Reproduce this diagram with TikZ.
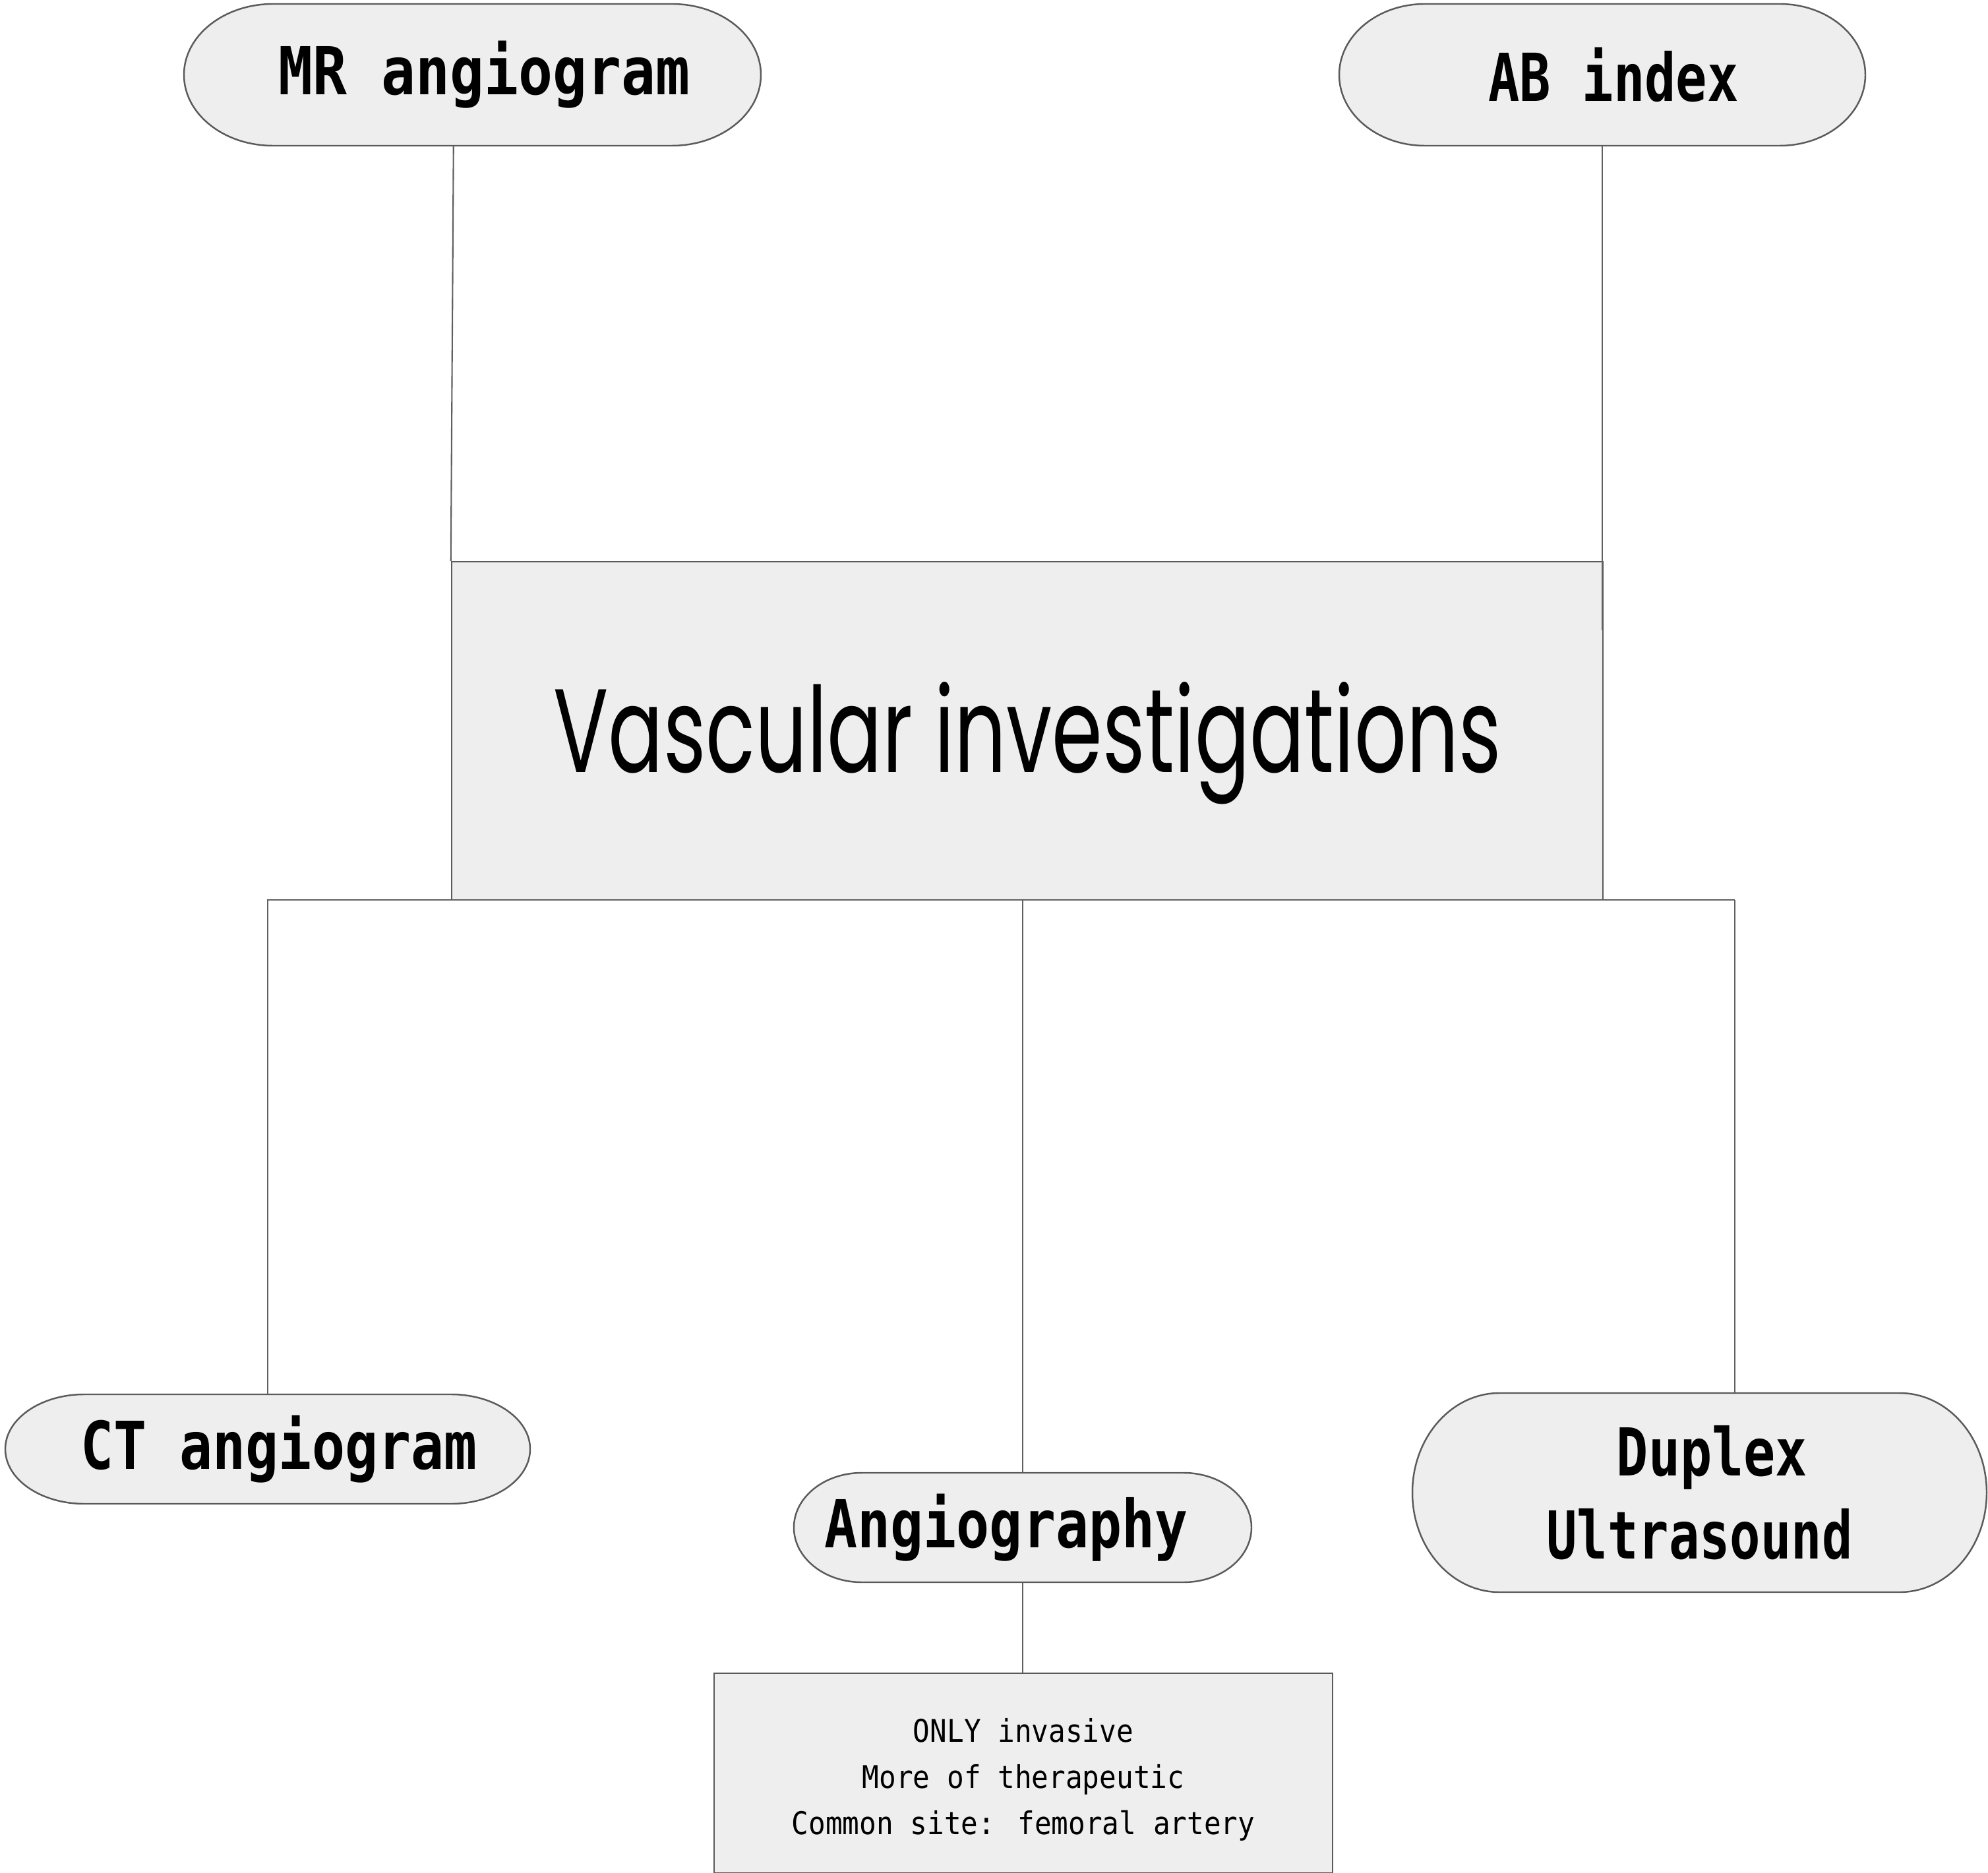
\documentclass[tikz,border=0pt]{standalone}
\usepackage{fontspec}
\usepackage{graphicx}
\newfontfamily\labelfont{DejaVu Sans Mono}
\newfontfamily\titlefont{Poppins}
\definecolor{boxfill}{HTML}{EEEEEE}
\definecolor{edge}{HTML}{5A5A5A}
\definecolor{wire}{HTML}{606060}
\newcommand\lbl[2][0.83]{\scalebox{#1}[1]{\labelfont\bfseries #2}}
\newcommand\notetxt[1]{\scalebox{0.90}[1]{\labelfont #1}}
\newcommand\pillshape[5]{%
  \pgfmathsetmacro\pry{(#2-(#4))/2}%
  \draw[pillline] (#1+#5,#2) -- (#3-#5,#2)
    arc[start angle=90,end angle=-90,x radius=#5,y radius=\pry]
    -- (#1+#5,#4)
    arc[start angle=270,end angle=90,x radius=#5,y radius=\pry] -- cycle;}
\begin{document}
\begin{tikzpicture}[
  pillline/.style={draw=edge,line width=0.7pt,fill=boxfill},
  pillnode/.style={rectangle,inner sep=0pt,
    font=\fontsize{28.5}{36}\selectfont,align=center},
  rectbox/.style={rectangle,draw=edge,line width=0.7pt,fill=boxfill,inner sep=0pt},
  wireline/.style={draw=wire,line width=0.6pt}
]
\useasboundingbox (0,0) rectangle (30.15,-28.41);
\fill[white] (0,0) rectangle (30.15,-28.41);

% pill outlines
\pillshape{2.79}{-0.06}{11.54}{-2.21}{1.35}
\pillshape{20.31}{-0.06}{28.29}{-2.21}{1.30}
\pillshape{0.08}{-21.15}{8.04}{-22.81}{1.20}
\pillshape{12.04}{-22.34}{18.98}{-24.00}{1.03}
\pillshape{21.42}{-21.13}{30.13}{-24.15}{1.32}

% pill nodes
\node[pillnode,minimum width=8.75cm,minimum height=2.15cm] (mr) at (7.165,-1.135)
  {\hspace*{0.36cm}\lbl[0.862]{MR angiogram}};
\node[pillnode,minimum width=7.98cm,minimum height=2.15cm] (ab) at (24.30,-1.135)
  {\hspace*{0.34cm}\lbl[0.786]{AB index}};
\node[pillnode,minimum width=7.96cm,minimum height=1.66cm] (ct) at (4.06,-21.98)
  {\hspace*{0.34cm}\lbl[0.83]{CT angiogram}};
\node[pillnode,minimum width=6.94cm,minimum height=1.66cm] (an) at (15.51,-23.17)
  {\lbl[0.83]{Angiography}\hspace*{0.5cm}};
\node[pillnode,minimum width=8.71cm,minimum height=3.02cm] (dup) at (25.775,-22.64)
  {\hspace*{0.38cm}\lbl[0.80]{Duplex}\\\lbl[0.77]{Ultrasound}};

% main box
\node[rectbox,minimum width=17.46cm,minimum height=5.13cm] (main) at (15.58,-11.085)
  {\raisebox{0pt}[\dimexpr1.37cm+0.38cm\relax][\depth]{\resizebox{14.37cm}{1.37cm}{\titlefont Vascular investigations}}};

% note box
\node[rectbox,minimum width=9.38cm,minimum height=3.03cm,align=center,
  font=\fontsize{13.5}{19.9}\selectfont] (note) at (15.52,-26.895)
  {\rule{0pt}{0.55cm}\notetxt{ONLY invasive}\\\notetxt{More of therapeutic}\\\notetxt{Common site: femoral artery}};

% connectors
\coordinate (abend) at (24.30,-9.56);
\coordinate (busR) at (26.31,-13.65);
\draw[wireline] ([xshift=0.04cm]mr.south -| main.north west) -- (main.north west);
\draw[wireline] (ab.south) -- (abend);
\draw[wireline] (ct.north) |- (busR);
\draw[wireline] (busR) -- (busR |- dup.north);
\draw[wireline] (an.north) -- (an.north |- main.south);
\draw[wireline] (an.south) -- (an.south |- note.north);
\end{tikzpicture}
\end{document}
